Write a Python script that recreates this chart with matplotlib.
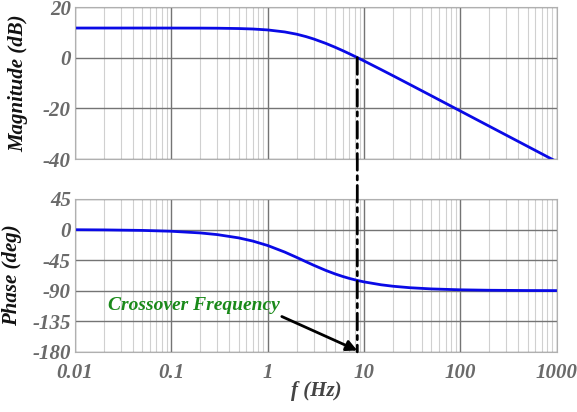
import matplotlib
matplotlib.use("Agg")
import matplotlib.pyplot as plt
from matplotlib.patches import ConnectionPatch

plt.rcParams["axes.unicode_minus"] = False

# Frequency response samples
freq_hz = [0.01, 0.02, 0.05, 0.1, 0.2, 0.3, 0.5, 0.7, 1, 1.5, 2, 2.5, 3, 4, 5, 6, 7,
           8.5, 10, 15, 20, 30, 50, 100, 200, 500, 1000]
magnitude_db = [11.70, 11.70, 11.70, 11.69, 11.67, 11.63, 11.50, 11.32, 10.95, 10.16,
                9.26, 8.31, 7.38, 5.65, 4.12, 2.78, 1.59, 0.04, -1.29, -4.69, -7.14,
                -10.63, -15.05, -21.07, -27.09, -35.04, -41.07]
phase_deg = [-0.25, -0.50, -1.25, -2.49, -4.97, -7.43, -12.26, -16.93, -23.50, -33.11,
             -41.01, -47.39, -52.52, -60.10, -65.30, -69.03, -71.81, -74.86, -77.05,
             -81.28, -83.44, -85.62, -87.37, -88.68, -89.34, -89.74, -89.87]

crossover_hz = 8.5
x_ticks = [0.01, 0.1, 1, 10, 100, 1000]
x_ticklabels = ["0.01", "0.1", "1", "10", "100", "1000"]
mag_ticks = [-40, -20, 0, 20]
phase_ticks = [-180, -135, -90, -45, 0, 45]

serif = ["Liberation Serif", "DejaVu Serif"]
tick_color = "#6a6a6a"
line_color = "#0a0ae6"

fig = plt.figure(figsize=(5.77, 4.12), dpi=100)
ax_mag = fig.add_axes([0.130, 0.614, 0.835, 0.369])
ax_ph = fig.add_axes([0.130, 0.146, 0.835, 0.371])

for ax in (ax_mag, ax_ph):
    ax.set_xscale("log")
    ax.set_xlim(0.01, 1000)
    ax.grid(True, which="major", color="#747474", linewidth=1.0)
    ax.grid(True, which="minor", color="#d0d0d0", linewidth=0.8)
    ax.set_axisbelow(True)
    for s in ax.spines.values():
        s.set_color("#b0b0b0")
        s.set_linewidth(0.8)
    ax.tick_params(which="both", length=0)
    ax.tick_params(axis="y", pad=3)
    ax.tick_params(axis="x", pad=8)

ax_mag.plot(freq_hz, magnitude_db, color=line_color, linewidth=2)
ax_mag.set_ylim(-40, 20)
ax_mag.set_yticks(mag_ticks)
ax_mag.set_xticks(x_ticks)
ax_mag.set_xticklabels([])

ax_ph.plot(freq_hz, phase_deg, color=line_color, linewidth=2)
ax_ph.set_ylim(-180, 45)
ax_ph.set_yticks(phase_ticks)
ax_ph.set_xticks(x_ticks)
ax_ph.set_xticklabels(x_ticklabels)

for ax in (ax_mag, ax_ph):
    for lbl in ax.get_yticklabels() + ax.get_xticklabels():
        lbl.set_fontfamily(serif)
        lbl.set_fontsize(15)
        lbl.set_fontweight("bold")
        lbl.set_fontstyle("italic")
        lbl.set_color(tick_color)

label_kw = dict(family=serif, fontsize=15, fontweight="bold", fontstyle="italic")
ax_mag.set_ylabel("Magnitude (dB)", color="#111111", **label_kw)
ax_ph.set_ylabel("Phase (deg)", color="#111111", **label_kw)
ax_ph.set_xlabel("f (Hz)", color="#444444", va="top", **label_kw)
ax_mag.yaxis.set_label_coords(-0.097, 0.5)
ax_ph.yaxis.set_label_coords(-0.110, 0.5)
ax_ph.xaxis.set_label_coords(0.5, -0.19)

# Crossover marker spanning both panels
con = ConnectionPatch(xyA=(crossover_hz, 0), coordsA=ax_mag.transData,
                      xyB=(crossover_hz, -180), coordsB=ax_ph.transData,
                      color="black", linewidth=2, linestyle=(0, (6, 2, 1.5, 2)))
fig.add_artist(con)

ax_ph.text(0.022, -112, "Crossover Frequency", color="#1a8a1a", family=serif,
           fontsize=14, fontweight="bold", fontstyle="italic", va="center", ha="left")
ax_ph.annotate("", xy=(crossover_hz, -178), xytext=(1.4, -128),
               arrowprops=dict(arrowstyle="-|>", color="black", linewidth=2,
                               mutation_scale=16, shrinkA=0, shrinkB=0))

fig.savefig("out.png", dpi=100)
